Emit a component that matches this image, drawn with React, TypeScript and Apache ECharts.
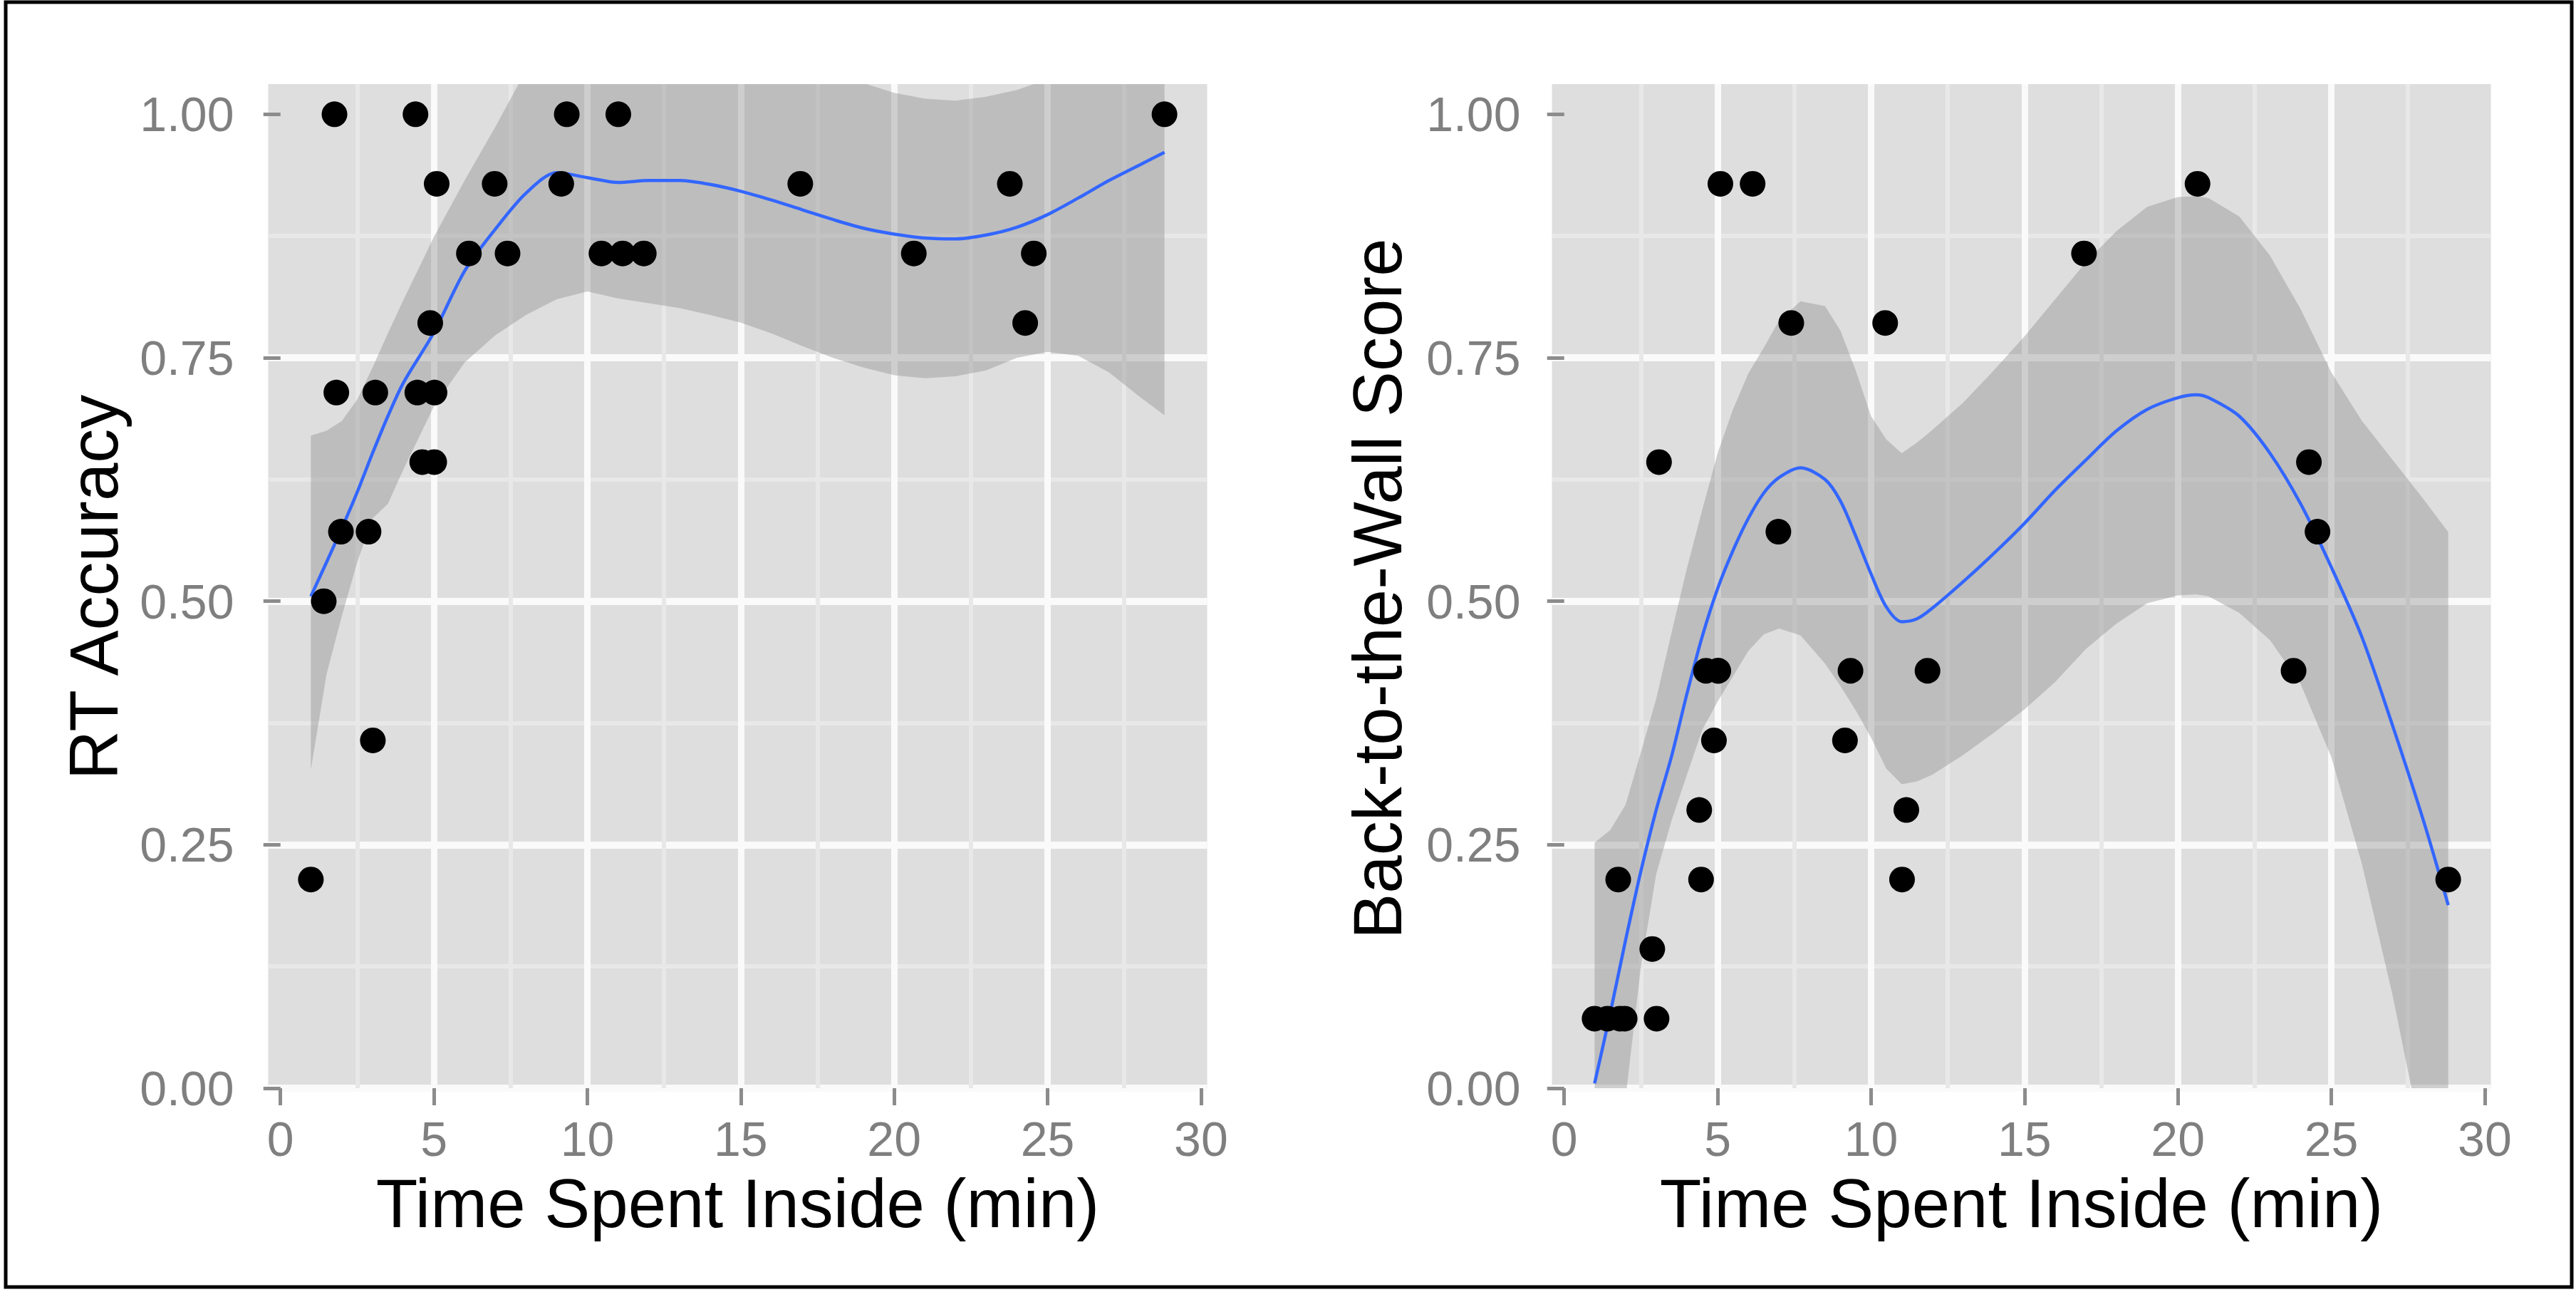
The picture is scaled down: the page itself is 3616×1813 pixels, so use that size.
import React, { useEffect, useRef } from 'react';
import * as echarts from 'echarts';

// ---- Observed data (same subjects in both panels) ----
const timeInside = [0.99, 1.41, 1.76, 1.82, 1.97, 2.87, 3.01, 3.09, 4.40, 4.46, 4.62, 4.88, 5.01, 5.02, 5.09, 6.14, 6.98, 7.40, 9.15, 9.33, 10.46, 11.01, 11.15, 11.84, 16.94, 20.64, 23.77, 24.27, 24.55, 28.81];
const rtAccuracy = [0.2143, 0.5, 1.0, 0.7143, 0.5714, 0.5714, 0.3571, 0.7143, 1.0, 0.7143, 0.6429, 0.7857, 0.6429, 0.7143, 0.9286, 0.8571, 0.9286, 0.8571, 0.9286, 1.0, 0.8571, 1.0, 0.8571, 0.8571, 0.9286, 0.8571, 0.9286, 0.7857, 0.8571, 1.0];
const backToWall = [0.0714, 0.0714, 0.2143, 0.0714, 0.0714, 0.1429, 0.0714, 0.6429, 0.2857, 0.2143, 0.4286, 0.3571, 0.4286, 0.4286, 0.9286, 0.9286, 0.5714, 0.7857, 0.3571, 0.4286, 0.7857, 0.2143, 0.2857, 0.4286, 0.8571, 0.9286, 0.4286, 0.6429, 0.5714, 0.2143];

// ---- Smooth fit (RT Accuracy) ----
const rtSmoothX = [0.99, 1.5, 2, 2.5, 3, 3.5, 4, 5, 6, 7, 8, 9, 10, 11, 12, 13, 14, 15, 16, 17, 18, 19, 20, 21, 22, 23, 24, 25, 26, 27, 28, 28.81];
const rtFit = [0.505, 0.540, 0.575, 0.612, 0.652, 0.690, 0.724, 0.776, 0.839, 0.882, 0.919, 0.940, 0.935, 0.930, 0.932, 0.932, 0.928, 0.921, 0.912, 0.902, 0.892, 0.883, 0.877, 0.873, 0.872, 0.876, 0.884, 0.897, 0.914, 0.932, 0.948, 0.961];
const rtLower = [0.327, 0.425, 0.485, 0.540, 0.585, 0.600, 0.635, 0.700, 0.745, 0.773, 0.794, 0.810, 0.818, 0.811, 0.806, 0.801, 0.794, 0.786, 0.775, 0.762, 0.750, 0.740, 0.732, 0.729, 0.731, 0.737, 0.750, 0.756, 0.752, 0.735, 0.710, 0.691];
const rtUpper = [0.670, 0.675, 0.685, 0.707, 0.740, 0.775, 0.809, 0.874, 0.932, 0.987, 1.045, 1.065, 1.070, 1.070, 1.068, 1.065, 1.060, 1.055, 1.050, 1.045, 1.040, 1.032, 1.022, 1.016, 1.014, 1.018, 1.025, 1.036, 1.070, 1.120, 1.180, 1.230];

// ---- Smooth fit (Back-to-the-Wall Score) ----
const btwSmoothX = [0.99, 1.5, 2, 2.5, 3, 3.5, 4, 4.5, 5, 5.5, 6, 6.5, 7, 7.7, 8.5, 9, 9.5, 10, 10.5, 11, 11.5, 12, 13, 14, 15, 16, 17, 18, 19, 20, 20.6, 21, 22, 23, 24, 25, 26, 27, 28, 28.81];
const btwFit = [0.005, 0.077, 0.152, 0.223, 0.286, 0.341, 0.405, 0.464, 0.513, 0.552, 0.585, 0.611, 0.627, 0.637, 0.625, 0.603, 0.567, 0.528, 0.494, 0.479, 0.482, 0.493, 0.520, 0.549, 0.580, 0.614, 0.645, 0.675, 0.697, 0.709, 0.712, 0.709, 0.690, 0.652, 0.600, 0.535, 0.463, 0.372, 0.275, 0.188];
const btwLower = [-0.24, -0.12, -0.01, 0.125, 0.220, 0.275, 0.322, 0.368, 0.397, 0.423, 0.449, 0.466, 0.472, 0.465, 0.436, 0.413, 0.388, 0.360, 0.328, 0.312, 0.315, 0.322, 0.342, 0.365, 0.389, 0.417, 0.451, 0.477, 0.498, 0.506, 0.507, 0.505, 0.488, 0.460, 0.415, 0.340, 0.230, 0.095, -0.060, -0.200];
const btwUpper = [0.252, 0.265, 0.291, 0.345, 0.400, 0.468, 0.534, 0.594, 0.652, 0.697, 0.734, 0.760, 0.788, 0.808, 0.803, 0.778, 0.737, 0.690, 0.666, 0.652, 0.663, 0.676, 0.704, 0.737, 0.772, 0.810, 0.848, 0.880, 0.905, 0.915, 0.916, 0.914, 0.895, 0.855, 0.800, 0.735, 0.685, 0.645, 0.605, 0.571];

// ---- Axis ticks ----
const xTicks = [0, 5, 10, 15, 20, 25, 30];
const yTicks = [0, 0.25, 0.5, 0.75, 1.0];

const xTitle = 'Time Spent Inside (min)';
const yTitleLeft = 'RT Accuracy';
const yTitleRight = 'Back-to-the-Wall Score';

const FONT = '"Liberation Sans", Arial, Helvetica, sans-serif';
const TICK_COLOR = '#8C8C8C';
const LABEL_COLOR = '#7F7F7F';

function xAxisCfg(gridIndex: number) {
  return {
    type: 'value',
    gridIndex,
    min: -0.4,
    max: 30.2,
    axisLine: { show: false },
    axisTick: { show: true, length: 24, customValues: xTicks, lineStyle: { color: TICK_COLOR, width: 5 } },
    axisLabel: { customValues: xTicks, margin: 37, color: LABEL_COLOR, fontSize: 68, fontFamily: FONT },
    splitLine: { show: true, showMinLine: false, showMaxLine: false, lineStyle: { color: '#FAFAFA', width: 9 } },
    minorTick: { show: false, splitNumber: 2 },
    minorSplitLine: { show: true, lineStyle: { color: '#E8E8E8', width: 6 } },
  };
}

function yAxisCfg(gridIndex: number, margin: number) {
  return {
    type: 'value',
    gridIndex,
    min: 0,
    max: 1.031,
    interval: 0.25,
    axisLine: { show: false },
    axisTick: { show: true, length: 24, customValues: yTicks, lineStyle: { color: TICK_COLOR, width: 5 } },
    axisLabel: {
      customValues: yTicks,
      margin,
      color: LABEL_COLOR,
      fontSize: 68,
      fontFamily: FONT,
      formatter: (v: number) => Number(v).toFixed(2),
    },
    splitLine: { show: true, showMaxLine: false, lineStyle: { color: '#FAFAFA', width: 10 } },
    minorTick: { show: false, splitNumber: 2 },
    minorSplitLine: { show: true, lineStyle: { color: '#E8E8E8', width: 6 } },
  };
}

function ribbonSeries(idx: number, xs: number[], lo: number[], hi: number[]) {
  return {
    type: 'custom',
    xAxisIndex: idx,
    yAxisIndex: idx,
    clip: true,
    silent: true,
    z: 2,
    data: [[xs[0], lo[0]]],
    renderItem: (params: any, api: any) => {
      const pts: number[][] = [];
      for (let i = 0; i < xs.length; i++) pts.push(api.coord([xs[i], hi[i]]));
      for (let i = xs.length - 1; i >= 0; i--) pts.push(api.coord([xs[i], lo[i]]));
      return {
        type: 'polygon',
        shape: { points: pts },
        style: { fill: 'rgba(140,140,140,0.4)', stroke: 'none' },
      };
    },
  };
}

function fitSeries(idx: number, xs: number[], ys: number[]) {
  return {
    type: 'line',
    xAxisIndex: idx,
    yAxisIndex: idx,
    showSymbol: false,
    smooth: 0.3,
    clip: true,
    silent: true,
    z: 3,
    lineStyle: { color: '#3366FF', width: 4.5, opacity: 1 },
    data: xs.map((x, i) => [x, ys[i]]),
  };
}

function pointSeries(idx: number, ys: number[]) {
  return {
    type: 'scatter',
    xAxisIndex: idx,
    yAxisIndex: idx,
    symbol: 'circle',
    symbolSize: 36,
    silent: true,
    z: 4,
    itemStyle: { color: '#000000', opacity: 1 },
    data: timeInside.map((x, i) => [x, ys[i]]),
  };
}

function textEl(text: string, x: number, y: number, rotate: boolean) {
  return {
    type: 'text',
    x,
    y,
    rotation: rotate ? Math.PI / 2 : 0,
    silent: true,
    style: {
      text,
      fontSize: 96,
      fontFamily: FONT,
      fill: '#000000',
      align: 'center',
      verticalAlign: 'middle',
      textAlign: 'center',
      textVerticalAlign: 'middle',
    },
  };
}

export default function App() {
  const ref = useRef<HTMLDivElement>(null);
  useEffect(() => {
    if (!ref.current) return;
    const chart = echarts.init(ref.current, null, { renderer: 'svg' });
    const gridTop = 118;
    const gridH = 1409;
    const gridW = 1318;
    chart.setOption({
      animation: false,
      backgroundColor: '#FFFFFF',
      grid: [
        { left: 376.5, top: gridTop, width: gridW, height: gridH, show: true, backgroundColor: '#DEDEDE', borderWidth: 0, containLabel: false },
        { left: 2178.5, top: gridTop, width: gridW, height: gridH, show: true, backgroundColor: '#DEDEDE', borderWidth: 0, containLabel: false },
      ],
      xAxis: [xAxisCfg(0), xAxisCfg(1)],
      yAxis: [yAxisCfg(0, 48), yAxisCfg(1, 44)],
      series: [
        ribbonSeries(0, rtSmoothX, rtLower, rtUpper),
        fitSeries(0, rtSmoothX, rtFit),
        pointSeries(0, rtAccuracy),
        ribbonSeries(1, btwSmoothX, btwLower, btwUpper),
        fitSeries(1, btwSmoothX, btwFit),
        pointSeries(1, backToWall),
      ],
      graphic: [
        { type: 'rect', silent: true, shape: { x: 8, y: 3, width: 3602, height: 1803 }, style: { fill: 'none', stroke: '#000000', lineWidth: 5 } },
        textEl(xTitle, 1035.5, 1688, false),
        textEl(xTitle, 2837.5, 1688, false),
        textEl(yTitleLeft, 131, 824, true),
        textEl(yTitleRight, 1933, 826, true),
      ],
    });
    return () => chart.dispose();
  }, []);
  return (
    <div
      ref={ref}
      style={{ position: 'absolute', left: 0, top: 0, width: 3616, height: 1813, background: '#FFFFFF' }}
    />
  );
}
